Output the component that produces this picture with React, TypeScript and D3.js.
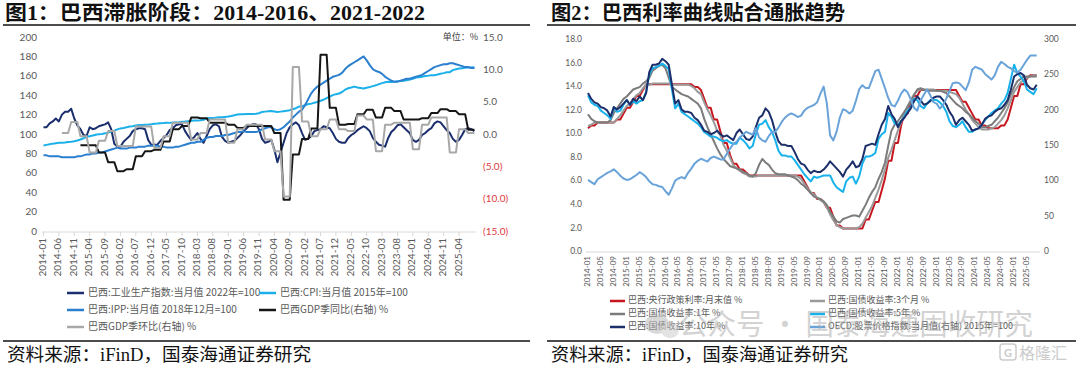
import React from "react";
import * as d3 from "d3";

// ---------------- Figure 1 data (monthly 2014-01 .. 2025-09) ----------------
const ipIndex: number[] = [
  108, 108, 112, 114, 117, 114, 121, 124, 124, 127, 117, 110,
  106, 100, 99, 108, 106, 107, 109, 110, 111, 113, 106, 91,
  88, 88, 93, 96, 99, 104, 106, 107, 107, 106, 95, 90,
  90, 90, 94, 97, 100, 105, 107, 110, 111, 111, 104, 99,
  95, 98, 102, 96, 92, 99, 106, 110, 111, 109, 98, 94,
  92, 93, 94, 97, 100, 104, 107, 110, 111, 111, 106, 96,
  92, 93, 95, 85, 72, 82, 92, 102, 108, 111, 113, 110,
  102, 95, 96, 99, 104, 105, 106, 109, 108, 107, 102, 96,
  93, 92, 92, 97, 100, 102, 105, 107, 109, 107, 104, 97,
  93, 90, 89, 88, 97, 103, 106, 110, 111, 108, 105, 102,
  95, 93, 95, 100, 102, 105, 107, 112, 114, 113, 109, 105,
  102, 96, 93, 95, 100, 106, 107, 106, 104,
];
const cpiIndex: number[] = [
  89.1, 89.8, 90.5, 91.1, 91.5, 91.9, 91.9, 92.2, 92.7, 93.1, 93.6, 94.3,
  95.4, 96.6, 98.1, 98.8, 99.5, 100.3, 100.9, 101.1, 101.7, 102.5, 103.5, 104.5,
  105.8, 106.8, 107.3, 107.9, 108.7, 109.1, 109.7, 110.2, 110.3, 110.6, 110.8, 111.1,
  111.5, 111.8, 112.2, 112.3, 112.7, 112.5, 112.8, 113.0, 113.1, 113.6, 113.9, 114.3,
  114.6, 114.9, 115.0, 115.3, 115.7, 117.2, 117.5, 117.4, 117.9, 118.4, 118.2, 118.6,
  119.0, 119.5, 120.4, 121.1, 121.3, 121.3, 121.6, 121.7, 121.7, 121.8, 122.4, 123.8,
  124.1, 124.4, 124.7, 124.3, 123.8, 124.1, 124.6, 124.9, 125.6, 126.6, 127.6, 129.3,
  129.6, 130.6, 131.9, 132.3, 133.3, 134.0, 135.3, 136.4, 138.0, 139.7, 141.1, 142.1,
  142.8, 144.3, 146.7, 148.2, 148.9, 149.9, 148.9, 148.4, 147.9, 148.8, 149.4, 150.4,
  151.2, 152.4, 153.5, 154.4, 154.8, 154.7, 154.9, 155.3, 155.6, 156.0, 156.4, 157.3,
  158.0, 159.3, 159.5, 160.1, 160.8, 161.2, 161.7, 161.6, 162.3, 163.2, 163.8, 164.6,
  164.8, 166.9, 167.8, 168.5, 168.9, 169.3, 169.7, 169.5, 169.9,
];
const ippIndex: number[] = [
  79, 79, 78, 78, 78, 78, 77, 77, 77, 77, 77, 78,
  78, 79, 80, 80, 81, 81, 82, 82, 83, 84, 85, 86,
  87, 86, 86, 86, 87, 87, 87, 88, 88, 88, 89, 89,
  89, 89, 88, 88, 87, 87, 87, 88, 88, 89, 90, 91,
  92, 92, 93, 93, 95, 97, 98, 98, 99, 99, 99, 100,
  100, 101, 102, 103, 103, 104, 103, 103, 103, 103, 104, 106,
  107, 108, 108, 106, 105, 106, 108, 111, 114, 118, 121, 124,
  126, 131, 137, 143, 147, 150, 152, 154, 156, 158, 160, 161,
  162, 164, 168, 171, 173, 175, 177, 179, 181, 177, 172, 168,
  166, 165, 163, 160, 158, 156, 155, 155, 156, 157, 158, 158,
  159, 160, 161, 162, 164, 166, 168, 170, 171, 172, 173, 173,
  174, 174, 173, 172, 171, 170, 170, 169, 169,
];
// quarterly 2014Q1 .. 2025Q3 (right axis, %)
const gdpYoY: (number | null)[] = [
  null, null, null, null, -1.6, -1.6, -2.7, -4.2, -5.6, -5.3, -3.3, -2.5,
  -2.3, -1.0, 0.9, 1.4, 2.7, 2.6, 1.9, 1.9, 1.6, 1.1, 1.4, 1.4,
  1.4, 0.3, -10.0, -3.0, -0.6, 1.0, 12.4, 4.2, 1.6, 1.7, 3.2, 3.9,
  2.7, 4.2, 3.7, 2.4, 2.4, 2.6, 3.4, 4.0, 3.7, 3.2, 0.8,
];
const gdpQoQ: (number | null)[] = [
  null, null, 0.3, 2.0, -0.2, -2.7, -0.9, 0.6, -1.7, -1.7, 1.3, 1.3,
  -2.0, -0.2, 1.9, 1.9, -0.7, 0.3, 2.4, 2.4, -1.2, 0.9, 1.6, 1.6,
  -0.7, -2.5, -9.5, 10.5, 2.1, -0.2, 0.9, 2.4, 0.9, 0.6, 3.0, 2.4,
  -2.5, 1.6, 1.9, 1.9, -2.2, 1.6, 2.7, 2.7, -2.7, 0.9, 0.3,
];
const fig1XLabels = [
  "2014-01", "2014-06", "2014-11", "2015-04", "2015-09", "2016-02", "2016-07",
  "2016-12", "2017-05", "2017-10", "2018-03", "2018-08", "2019-01", "2019-06",
  "2019-11", "2020-04", "2020-09", "2021-02", "2021-07", "2021-12", "2022-05",
  "2022-10", "2023-03", "2023-08", "2024-01", "2024-06", "2024-11", "2025-04",
];
const fig1LeftTicks = [0, 20, 40, 60, 80, 100, 120, 140, 160, 180, 200];
const fig1RightTicks = [15, 10, 5, 0, -5, -10, -15];

// ---------------- Figure 2 data (monthly 2014-01 .. 2025-08) ----------------
const selic: number[] = [
  10.5, 10.75, 10.75, 11.0, 11.0, 11.0, 11.0, 11.0, 11.0, 11.25, 11.25, 11.75,
  12.25, 12.25, 12.75, 13.25, 13.25, 13.75, 14.25, 14.25, 14.25, 14.25, 14.25, 14.25,
  14.25, 14.25, 14.25, 14.25, 14.25, 14.25, 14.25, 14.25, 14.25, 14.0, 14.0, 13.75,
  13.0, 12.25, 12.25, 11.25, 11.25, 10.25, 9.25, 9.25, 8.25, 7.5, 7.5, 7.0,
  7.0, 6.75, 6.5, 6.5, 6.5, 6.5, 6.5, 6.5, 6.5, 6.5, 6.5, 6.5,
  6.5, 6.5, 6.5, 6.5, 6.5, 6.5, 6.5, 6.0, 5.5, 5.0, 5.0, 4.5,
  4.5, 4.25, 3.75, 3.75, 3.0, 2.25, 2.25, 2.0, 2.0, 2.0, 2.0, 2.0,
  2.0, 2.0, 2.75, 2.75, 3.5, 4.25, 4.25, 5.25, 6.25, 7.75, 7.75, 9.25,
  9.25, 10.75, 11.75, 11.75, 12.75, 13.25, 13.25, 13.75, 13.75, 13.75, 13.75, 13.75,
  13.75, 13.75, 13.75, 13.75, 13.75, 13.75, 13.75, 13.25, 12.75, 12.75, 12.25, 11.75,
  11.25, 11.25, 10.75, 10.75, 10.5, 10.5, 10.5, 10.5, 10.75, 10.75, 11.25, 12.25,
  13.25, 13.25, 14.25, 14.25, 14.75, 15.0, 15.0, 15.0,
];
const yield3m: number[] = [
  10.7, 10.8, 11.0, 11.0, 11.0, 11.0, 11.0, 11.0, 11.0, 11.3, 11.6, 12.0,
  12.4, 12.6, 13.0, 13.3, 13.5, 13.9, 14.2, 14.2, 14.3, 14.3, 14.3, 14.3,
  14.3, 14.3, 14.2, 14.2, 14.2, 14.2, 14.2, 14.2, 14.1, 13.9, 13.6, 13.4,
  12.7, 12.1, 11.6, 11.0, 10.3, 9.9, 9.1, 8.6, 8.0, 7.4, 7.1, 6.9,
  6.7, 6.6, 6.4, 6.4, 6.4, 6.5, 6.5, 6.5, 6.5, 6.5, 6.5, 6.5,
  6.5, 6.5, 6.5, 6.5, 6.5, 6.4, 6.2, 5.8, 5.4, 5.1, 4.9, 4.6,
  4.4, 4.2, 3.8, 3.2, 2.7, 2.3, 2.1, 2.0, 2.0, 2.0, 2.0, 2.0,
  2.1, 2.4, 2.9, 3.4, 3.9, 4.6, 5.3, 6.1, 7.0, 8.0, 8.7, 9.5,
  10.3, 11.0, 11.8, 12.4, 12.9, 13.4, 13.7, 13.8, 13.8, 13.8, 13.8, 13.8,
  13.7, 13.7, 13.7, 13.7, 13.6, 13.5, 13.4, 13.1, 12.6, 12.1, 11.7, 11.2,
  10.9, 10.6, 10.4, 10.4, 10.4, 10.5, 10.6, 10.9, 11.2, 11.6, 12.2, 12.9,
  13.6, 14.0, 14.4, 14.6, 14.8, 14.9, 15.0, 15.0,
];
const yield1y: number[] = [
  11.7, 11.3, 11.1, 11.0, 11.0, 11.0, 11.0, 11.2, 11.8, 12.2, 12.6, 13.0,
  13.2, 13.5, 13.8, 13.9, 14.0, 14.3, 14.5, 14.8, 15.4, 15.6, 15.8, 15.9,
  15.6, 14.8, 14.0, 13.8, 13.6, 13.4, 13.3, 13.2, 13.0, 12.8, 12.6, 12.2,
  11.3, 10.6, 10.0, 9.4, 8.8, 8.3, 7.9, 7.6, 7.3, 7.2, 7.1, 7.0,
  6.8, 6.7, 6.5, 6.4, 6.7, 7.4, 7.9, 7.6, 7.4, 7.0, 6.7, 6.6,
  6.6, 6.6, 6.5, 6.4, 6.3, 6.1, 5.8, 5.6, 5.3, 5.0, 4.7, 4.6,
  4.5, 4.3, 4.0, 3.4, 3.0, 2.6, 2.5, 2.8, 2.9, 3.0, 3.1, 3.1,
  3.0, 3.5, 4.0, 4.6, 5.1, 5.5, 6.2, 6.8, 7.6, 9.0, 10.3, 10.8,
  11.1, 11.5, 11.9, 12.3, 12.8, 13.3, 13.8, 13.9, 13.8, 13.7, 13.7, 13.7,
  13.7, 13.7, 13.6, 13.5, 13.2, 12.9, 12.6, 12.4, 12.2, 11.9, 11.7, 11.4,
  11.1, 10.9, 10.6, 10.6, 10.7, 10.8, 11.1, 11.4, 11.8, 12.2, 12.7, 13.4,
  14.0, 14.5, 14.7, 14.9, 14.9, 14.9, 14.9, 14.9,
];
const yield5y: number[] = [
  13.3, 12.7, 12.5, 12.4, 12.0, 11.8, 11.6, 11.3, 12.3, 11.9, 12.0, 12.5,
  12.9, 12.5, 12.8, 12.6, 12.8, 12.9, 13.6, 15.1, 15.6, 15.7, 15.8, 16.0,
  15.8, 15.5, 13.8, 12.2, 12.6, 11.9, 11.7, 11.5, 11.3, 11.1, 10.9, 10.6,
  10.2, 10.0, 9.8, 9.8, 9.7, 9.5, 9.4, 9.5, 9.3, 9.2, 9.2, 9.7,
  9.5, 9.2, 8.8, 9.0, 10.0, 10.8, 10.9, 11.2, 10.6, 10.2, 9.5, 8.6,
  8.2, 8.2, 8.1, 8.1, 7.8, 7.4, 7.0, 6.6, 6.3, 6.0, 6.4, 6.3,
  6.4, 6.5, 6.5, 6.5, 5.9, 5.5, 5.3, 5.1, 6.0, 6.3, 6.4, 5.8,
  6.4, 7.5, 8.1, 8.1, 8.2, 8.4, 9.6, 10.0, 10.2, 11.8, 11.5, 10.9,
  10.8, 11.1, 11.5, 12.0, 12.3, 13.0, 12.9, 12.4, 12.2, 12.6, 12.9, 12.9,
  12.9, 12.7, 12.4, 11.9, 11.1, 10.7, 10.6, 10.8, 11.1, 10.6, 10.2, 10.2,
  10.4, 10.5, 10.8, 11.2, 11.5, 11.8, 12.0, 12.2, 12.6, 12.9, 13.5, 14.7,
  15.9, 15.2, 14.9, 14.5, 13.8, 13.6, 13.4, 13.9,
];
const yield10y: number[] = [
  13.5, 13.0, 12.7, 12.6, 12.3, 12.2, 12.0, 11.5, 12.3, 12.1, 12.3, 12.6,
  12.9, 12.5, 13.0, 12.8, 13.2, 12.9, 13.5, 15.3, 15.9, 15.9, 16.0, 16.4,
  16.2, 15.9, 14.2, 12.6, 12.9, 12.1, 11.9, 11.9, 11.8, 11.4, 11.2, 10.8,
  10.3, 10.2, 10.0, 10.1, 10.3, 10.0, 9.8, 9.9, 9.7, 9.5, 10.1, 10.4,
  10.0, 9.6, 9.5, 9.8, 10.6, 11.4, 11.6, 12.2, 11.9, 11.2, 10.2, 9.4,
  9.1, 9.1, 9.0, 9.0, 8.5, 7.9, 7.5, 7.4, 7.0, 6.7, 6.9, 6.8,
  6.8, 7.0, 7.3, 7.7, 7.4, 7.1, 6.8, 6.4, 7.0, 7.3, 7.7, 7.2,
  7.3, 7.9, 9.0, 9.1, 9.2, 9.1, 10.0, 10.8, 11.3, 12.4, 11.7, 11.3,
  10.6, 11.1, 11.4, 11.8, 12.2, 12.8, 13.2, 12.9, 12.5, 12.6, 12.8, 13.1,
  13.2, 13.2, 12.9, 12.5, 11.9, 11.5, 10.8, 11.2, 11.4, 11.1, 10.8, 10.3,
  10.4, 10.5, 10.8, 11.3, 11.5, 11.6, 11.9, 12.1, 12.2, 12.5, 12.9, 13.8,
  14.9, 15.1, 15.2, 15.0, 14.2, 13.9, 13.8, 14.2,
];
const sharePrice: number[] = [
  102, 99, 96, 103, 106, 109, 112, 114, 117, 113, 108, 104,
  102, 103, 106, 109, 113, 110, 106, 100, 96, 95, 93, 92,
  86, 81, 90, 101, 104, 106, 104, 112, 118, 125, 129, 132,
  130, 128, 133, 135, 133, 131, 131, 139, 146, 153, 156, 162,
  166, 170, 168, 166, 175, 162, 158, 156, 164, 170, 170, 176,
  184, 190, 194, 196, 194, 191, 193, 200, 204, 206, 208, 212,
  224, 234, 210, 165, 158, 170, 190, 202, 200, 196, 200, 214,
  230, 236, 232, 232, 244, 256, 258, 245, 232, 218, 208, 206,
  214, 224, 230, 226, 216, 204, 200, 214, 222, 230, 222, 212,
  210, 203, 208, 217, 228, 239, 240, 239, 234, 229, 240, 258,
  262, 260, 258, 252, 248, 244, 250, 262, 269, 266, 262, 260,
  256, 254, 258, 265, 272, 278, 278, 278,
];
const fig2XLabels = [
  "2014-01", "2014-05", "2014-09", "2015-01", "2015-05", "2015-09", "2016-01",
  "2016-05", "2016-09", "2017-01", "2017-05", "2017-09", "2018-01", "2018-05",
  "2018-09", "2019-01", "2019-05", "2019-09", "2020-01", "2020-05", "2020-09",
  "2021-01", "2021-05", "2021-09", "2022-01", "2022-05", "2022-09", "2023-01",
  "2023-05", "2023-09", "2024-01", "2024-05", "2024-09", "2025-01", "2025-05",
];
const fig2LeftTicks = [0, 2, 4, 6, 8, 10, 12, 14, 16, 18];
const fig2RightTicks = [0, 50, 100, 150, 200, 250, 300];

// ---------------- helpers ----------------
const monthIndex = (s: string) => {
  const [y, m] = s.split("-").map(Number);
  return (y - 2014) * 12 + (m - 1);
};
type Pt = { i: number; v: number };
const monthly = (arr: number[]): Pt[] => arr.map((v, i) => ({ i, v }));
const quarterlyToMonthly = (q: (number | null)[], lastMonth: number): Pt[] => {
  const pts: Pt[] = [];
  q.forEach((v, k) => {
    if (v == null) return;
    for (let m = 0; m < 3; m++) {
      const i = k * 3 + m;
      if (i <= lastMonth) pts.push({ i, v });
    }
  });
  return pts;
};

const AXIS_TXT = "#595959";
const SANS = "Lato, 'Noto Sans CJK SC', sans-serif";
const CJK = "'Noto Sans CJK SC', sans-serif";
const TITLE_FONT = "'Liberation Serif', 'Noto Sans CJK SC', serif";

export default function App() {
  // ---- Figure 1 scales ----
  const x1 = d3.scaleLinear().domain([0, 140]).range([43.5, 474.4]);
  const y1L = d3.scaleLinear().domain([0, 200]).range([232, 38]);
  const y1R = d3.scaleLinear().domain([-15, 15]).range([232, 38]);
  const line1L = d3.line<Pt>().x((d) => x1(d.i)).y((d) => y1L(d.v));
  const line1R = d3.line<Pt>().x((d) => x1(d.i)).y((d) => y1R(d.v));

  // ---- Figure 2 scales ----
  const x2 = d3.scaleLinear().domain([0, 139]).range([588, 1036.7]);
  const y2L = d3.scaleLinear().domain([0, 18]).range([252, 40]);
  const y2R = d3.scaleLinear().domain([0, 300]).range([252, 40]);
  const line2L = d3.line<Pt>().x((d) => x2(d.i)).y((d) => y2L(d.v));
  const line2R = d3.line<Pt>().x((d) => x2(d.i)).y((d) => y2R(d.v));

  const fig1Series = [
    { d: line1L(monthly(ipIndex)), c: "#1b2f6e" },
    { d: line1L(monthly(cpiIndex)), c: "#1cb0ea" },
    { d: line1L(monthly(ippIndex)), c: "#2a7fcf" },
    { d: line1R(quarterlyToMonthly(gdpYoY, 140)), c: "#161616" },
    { d: line1R(quarterlyToMonthly(gdpQoQ, 140)), c: "#a8a8a8" },
  ];
  const fig2Series = [
    { d: line2L(monthly(selic)), c: "#c8161e" },
    { d: line2L(monthly(yield3m)), c: "#9a9a9a" },
    { d: line2L(monthly(yield1y)), c: "#7c7c7c" },
    { d: line2L(monthly(yield5y)), c: "#17b2ec" },
    { d: line2L(monthly(yield10y)), c: "#1c2f6b" },
    { d: line2R(monthly(sharePrice)), c: "#6aa3da" },
  ];

  const legend1 = [
    { c: "#1b2f6e", t: "巴西:工业生产指数:当月值 2022年=100", x: 67, y: 293 },
    { c: "#1cb0ea", t: "巴西:CPI:当月值 2015年=100", x: 259, y: 293 },
    { c: "#2a7fcf", t: "巴西:IPP:当月值 2018年12月=100", x: 67, y: 310 },
    { c: "#161616", t: "巴西GDP季同比(右轴) %", x: 259, y: 310 },
    { c: "#a8a8a8", t: "巴西GDP季环比(右轴) %", x: 67, y: 327 },
  ];
  const legend2 = [
    { c: "#c8161e", t: "巴西:央行政策利率:月末值 %", x: 610, y: 301 },
    { c: "#9a9a9a", t: "巴西:国债收益率:3个月 %", x: 810, y: 301 },
    { c: "#7c7c7c", t: "巴西:国债收益率:1年 %", x: 610, y: 314 },
    { c: "#17b2ec", t: "巴西:国债收益率:5年 %", x: 810, y: 314 },
    { c: "#1c2f6b", t: "巴西:国债收益率:10年 %", x: 610, y: 327 },
    { c: "#6aa3da", t: "OECD:股票价格指数:当月值(右轴) 2015年=100", x: 810, y: 327 },
  ];

  return (
    <svg
      width={1080}
      height={368}
      viewBox="0 0 1080 368"
      style={{ position: "absolute", left: 0, top: 0, background: "#fff" }}
    >
      <rect x={0} y={0} width={1080} height={368} fill="#fff" />

      {/* ================= Figure 1 ================= */}
      <text x={5} y={20} fontFamily={TITLE_FONT} fontWeight={700} fontSize={20.5} fill="#111"
        textLength={420} lengthAdjust="spacingAndGlyphs">
        图1：巴西滞胀阶段：2014-2016、2021-2022
      </text>
      <line x1={3} x2={530} y1={25} y2={25} stroke="#111" strokeWidth={1.6} />

      {fig1LeftTicks.map((t) => (
        <text key={"l1" + t} x={37} y={y1L(t)} textAnchor="end" dominantBaseline="middle"
          fontFamily={SANS} fontSize={10} fill={AXIS_TXT}>{t}</text>
      ))}
      {fig1RightTicks.map((t) => (
        <text key={"r1" + t} x={483} y={y1R(t)} dominantBaseline="middle"
          fontFamily={SANS} fontSize={10} fill={t < 0 ? "#e0393e" : AXIS_TXT}>
          {t < 0 ? `(${Math.abs(t).toFixed(1)})` : t.toFixed(1)}
        </text>
      ))}
      <text x={478} y={y1R(15)} textAnchor="end" dominantBaseline="middle"
        fontFamily={CJK} fontSize={9} fill="#404040">单位：%</text>

      <line x1={42} x2={476} y1={232} y2={232} stroke="#d9d9d9" strokeWidth={1} />
      {fig1XLabels.map((s) => {
        const xx = x1(monthIndex(s));
        return (
          <g key={"x1" + s}>
            <line x1={xx} x2={xx} y1={232} y2={236} stroke="#d9d9d9" />
            <text transform={`translate(${xx},${238}) rotate(-90)`} textAnchor="end"
              dominantBaseline="middle" fontFamily={SANS} fontSize={10} fill={AXIS_TXT}>{s}</text>
          </g>
        );
      })}

      {fig1Series.map((s, k) => (
        <path key={"s1" + k} d={s.d || ""} fill="none" stroke={s.c} strokeWidth={2}
          strokeLinejoin="round" />
      ))}

      {legend1.map((l) => (
        <g key={l.t}>
          <line x1={l.x} x2={l.x + 17} y1={l.y} y2={l.y} stroke={l.c} strokeWidth={2.5} />
          <text x={l.x + 21} y={l.y} dominantBaseline="middle" fontFamily={CJK}
            fontSize={10} fill={AXIS_TXT}>{l.t}</text>
        </g>
      ))}

      <line x1={3} x2={530} y1={341} y2={341} stroke="#111" strokeWidth={1.6} />
      <text x={7} y={361} fontFamily={TITLE_FONT} fontSize={18} fill="#111"
        textLength={304} lengthAdjust="spacingAndGlyphs">
        资料来源：iFinD，国泰海通证券研究
      </text>

      {/* ================= Figure 2 ================= */}
      <text x={551} y={20} fontFamily={TITLE_FONT} fontWeight={700} fontSize={20.5} fill="#111"
        textLength={294} lengthAdjust="spacingAndGlyphs">
        图2：巴西利率曲线贴合通胀趋势
      </text>
      <line x1={547} x2={1076} y1={25} y2={25} stroke="#111" strokeWidth={1.6} />

      {fig2LeftTicks.map((t) => (
        <text key={"l2" + t} x={582} y={y2L(t)} textAnchor="end" dominantBaseline="middle"
          fontFamily={SANS} fontSize={8.5} fill={AXIS_TXT}>{t.toFixed(1)}</text>
      ))}
      {fig2RightTicks.map((t) => (
        <text key={"r2" + t} x={1044} y={y2R(t)} dominantBaseline="middle"
          fontFamily={SANS} fontSize={8.5} fill={AXIS_TXT}>{t}</text>
      ))}

      <line x1={586} x2={1040} y1={252} y2={252} stroke="#d9d9d9" strokeWidth={1} />
      {fig2XLabels.map((s) => {
        const xx = x2(monthIndex(s));
        return (
          <text key={"x2" + s} transform={`translate(${xx},${256}) rotate(-90)`} textAnchor="end"
            dominantBaseline="middle" fontFamily={SANS} fontSize={8} fill={AXIS_TXT}>{s}</text>
        );
      })}

      {fig2Series.map((s, k) => (
        <path key={"s2" + k} d={s.d || ""} fill="none" stroke={s.c} strokeWidth={2}
          strokeLinejoin="round" />
      ))}

      {legend2.map((l) => (
        <g key={l.t}>
          <line x1={l.x} x2={l.x + 15} y1={l.y} y2={l.y} stroke={l.c} strokeWidth={2.5} />
          <text x={l.x + 18} y={l.y} dominantBaseline="middle" fontFamily={CJK}
            fontSize={9} fill={AXIS_TXT}>{l.t}</text>
        </g>
      ))}

      {/* watermark */}
      <g opacity={0.5}>
        <ellipse cx={657} cy={324} rx={12} ry={10} fill="#b5b5b5" />
        <ellipse cx={670} cy={330} rx={9} ry={8} fill="#c8c8c8" />
        <text x={679} y={335} fontFamily={CJK} fontSize={29} fill="#a8a8a8"
          textLength={354} lengthAdjust="spacingAndGlyphs">
          公众号 · 国泰海通固收研究
        </text>
      </g>

      <line x1={547} x2={1076} y1={341} y2={341} stroke="#111" strokeWidth={1.6} />
      <text x={551} y={361} fontFamily={TITLE_FONT} fontSize={18} fill="#111"
        textLength={297} lengthAdjust="spacingAndGlyphs">
        资料来源：iFinD，国泰海通证券研究
      </text>
      <g opacity={0.6}>
        <rect x={1000} y={344} width={16} height={16} rx={3} fill="none" stroke="#aaa" strokeWidth={1.5} />
        <text x={1008} y={357} textAnchor="middle" fontFamily={SANS} fontSize={11} fontWeight={700} fill="#aaa">G</text>
        <text x={1019} y={359} fontFamily={CJK} fontSize={16} fill="#aaa">格隆汇</text>
      </g>
    </svg>
  );
}
